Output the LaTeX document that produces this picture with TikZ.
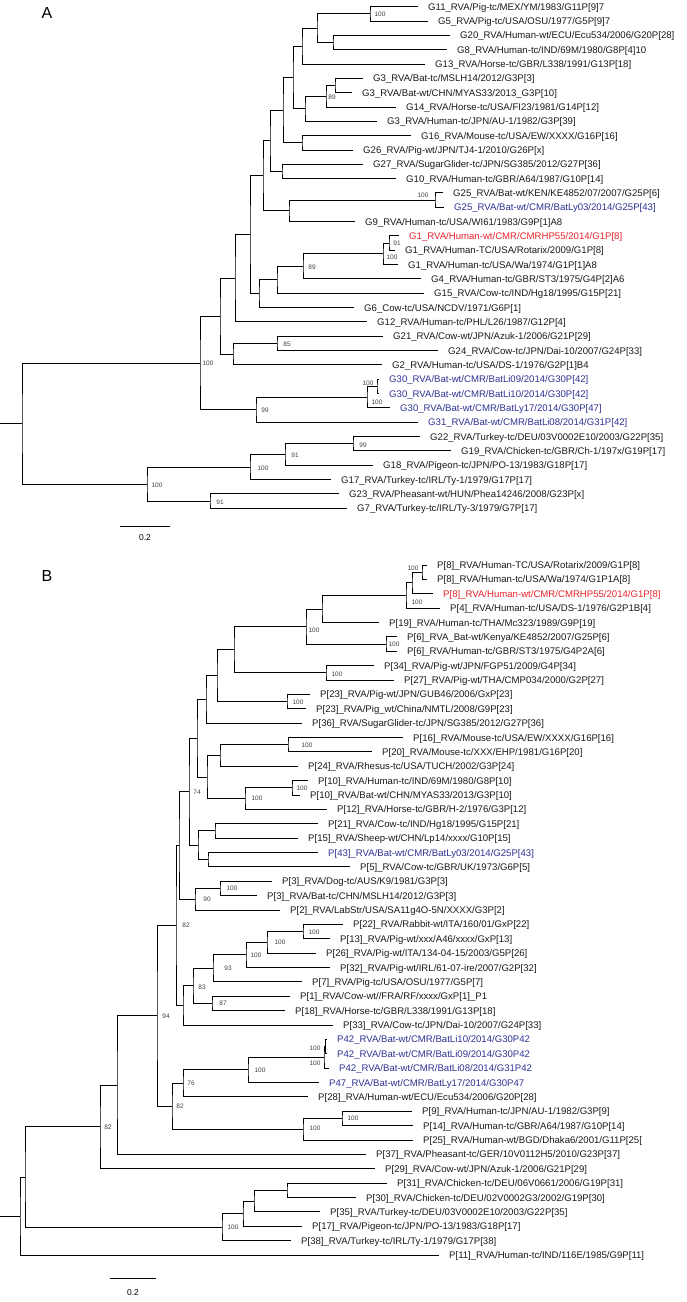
\documentclass[tikz,border=0pt]{standalone}
\usepackage{fontspec}
\setmainfont{Liberation Sans}
\usetikzlibrary{calc}
\definecolor{batblue}{HTML}{2E3192}
\definecolor{humred}{HTML}{E8232A}
\newcommand\ya[1]{6.7+14.33*(#1-1)}
\newcommand\yb[1]{565+14.375*(#1-1)}
\newcommand\leafnode[5][black!90]{%
  \coordinate (#2) at ({#3-10},{#4});
  \node[leaf,text=#1] (#2-t) at ([xshift=10pt,yshift=-3.5pt]#2) {#5};}
\newcommand\clade[4]{%
  \path let \p1=($(#3)!.5!(#4)$) in coordinate (#1) at (#2pt,\y1);
  \draw[branch] (#3) -| (#1) |- (#4);}
\newcommand\bs[4]{\node[boot] (#1-b) at (#2,#3) {#4};}
\begin{document}
\begin{tikzpicture}[x=1pt,y=-1pt,
  branch/.style={line width=1pt,draw=black},
  leaf/.style={anchor=base west,inner sep=0pt,font=\fontsize{9.6}{11}\selectfont},
  boot/.style={inner sep=0pt,text=black!75,font=\fontsize{6.5}{7}\selectfont},
  panel/.style={inner sep=0pt,font=\fontsize{16}{18}\selectfont},
  scalelab/.style={inner sep=0pt,font=\fontsize{8.5}{10}\selectfont}]
\useasboundingbox (0,0) rectangle (686,1302);
\node[panel] (pa) at (47,13) {A};
\leafnode{g11}{428}{\ya{1}}{G11\_RVA/Pig-tc/MEX/YM/1983/G11P[9]7}
\leafnode{g5}{438}{\ya{2}}{G5\_RVA/Pig-tc/USA/OSU/1977/G5P[9]7}
\leafnode{g20}{460}{\ya{3}}{G20\_RVA/Human-wt/ECU/Ecu534/2006/G20P[28]}
\leafnode{g8}{457}{\ya{4}}{G8\_RVA/Human-tc/IND/69M/1980/G8P[4]10}
\leafnode{g13}{435}{\ya{5}}{G13\_RVA/Horse-tc/GBR/L338/1991/G13P[18]}
\leafnode{g3bt}{373}{\ya{6}}{G3\_RVA/Bat-tc/MSLH14/2012/G3P[3]}
\leafnode{g3bw}{362}{\ya{7}}{G3\_RVA/Bat-wt/CHN/MYAS33/2013\_G3P[10]}
\leafnode{g14}{406}{\ya{8}}{G14\_RVA/Horse-tc/USA/FI23/1981/G14P[12]}
\leafnode{g3h}{387}{\ya{9}}{G3\_RVA/Human-tc/JPN/AU-1/1982/G3P[39]}
\leafnode{g16}{421}{\ya{10}}{G16\_RVA/Mouse-tc/USA/EW/XXXX/G16P[16]}
\leafnode{g26}{363}{\ya{11}}{G26\_RVA/Pig-wt/JPN/TJ4-1/2010/G26P[x]}
\leafnode{g27}{373}{\ya{12}}{G27\_RVA/SugarGlider-tc/JPN/SG385/2012/G27P[36]}
\leafnode{g10}{406}{\ya{13}}{G10\_RVA/Human-tc/GBR/A64/1987/G10P[14]}
\leafnode{g25k}{453}{\ya{14}}{G25\_RVA/Bat-wt/KEN/KE4852/07/2007/G25P[6]}
\leafnode[batblue]{g25c}{454}{\ya{15}}{G25\_RVA/Bat-wt/CMR/BatLy03/2014/G25P[43]}
\leafnode{g9}{365}{\ya{16}}{G9\_RVA/Human-tc/USA/WI61/1983/G9P[1]A8}
\leafnode[humred]{g1c}{409}{\ya{17}}{G1\_RVA/Human-wt/CMR/CMRHP55/2014/G1P[8]}
\leafnode{g1r}{405}{\ya{18}}{G1\_RVA/Human-TC/USA/Rotarix/2009/G1P[8]}
\leafnode{g1w}{408}{\ya{19}}{G1\_RVA/Human-tc/USA/Wa/1974/G1P[1]A8}
\leafnode{g4}{431}{\ya{20}}{G4\_RVA/Human-tc/GBR/ST3/1975/G4P[2]A6}
\leafnode{g15}{434}{\ya{21}}{G15\_RVA/Cow-tc/IND/Hg18/1995/G15P[21]}
\leafnode{g6}{364}{\ya{22}}{G6\_Cow-tc/USA/NCDV/1971/G6P[1]}
\leafnode{g12}{377}{\ya{23}}{G12\_RVA/Human-tc/PHL/L26/1987/G12P[4]}
\leafnode{g21}{393}{\ya{24}}{G21\_RVA/Cow-wt/JPN/Azuk-1/2006/G21P[29]}
\leafnode{g24}{448}{\ya{25}}{G24\_RVA/Cow-tc/JPN/Dai-10/2007/G24P[33]}
\leafnode{g2}{392}{\ya{26}}{G2\_RVA/Human-tc/USA/DS-1/1976/G2P[1]B4}
\leafnode[batblue]{g30a}{389}{\ya{27}}{G30\_RVA/Bat-wt/CMR/BatLi09/2014/G30P[42]}
\leafnode[batblue]{g30b}{389}{\ya{28}}{G30\_RVA/Bat-wt/CMR/BatLi10/2014/G30P[42]}
\leafnode[batblue]{g30c}{400}{\ya{29}}{G30\_RVA/Bat-wt/CMR/BatLy17/2014/G30P[47]}
\leafnode[batblue]{g31}{428}{\ya{30}}{G31\_RVA/Bat-wt/CMR/BatLi08/2014/G31P[42]}
\leafnode{g22}{430}{\ya{31}}{G22\_RVA/Turkey-tc/DEU/03V0002E10/2003/G22P[35]}
\leafnode{g19}{461}{\ya{32}}{G19\_RVA/Chicken-tc/GBR/Ch-1/197x/G19P[17]}
\leafnode{g18}{383}{\ya{33}}{G18\_RVA/Pigeon-tc/JPN/PO-13/1983/G18P[17]}
\leafnode{g17}{341}{\ya{34}}{G17\_RVA/Turkey-tc/IRL/Ty-1/1979/G17P[17]}
\leafnode{g23}{349}{\ya{35}}{G23\_RVA/Pheasant-wt/HUN/Phea14246/2008/G23P[x]}
\leafnode{g7}{357}{\ya{36}}{G7\_RVA/Turkey-tc/IRL/Ty-3/1979/G7P[17]}
\clade{n1}{370}{g11}{g5}
\clade{n2}{333}{g20}{g8}
\clade{n3}{317}{n1}{n2}
\clade{n4}{302}{n3}{g13}
\clade{n5}{335}{g3bt}{g3bw}
\clade{n6}{326}{n5}{g14}
\clade{n7}{305}{n6}{g3h}
\clade{n8}{293}{n4}{n7}
\clade{n9}{302}{g16}{g26}
\clade{n10}{283}{n8}{n9}
\clade{n11}{282}{g27}{g10}
\clade{n12}{270}{n10}{n11}
\clade{n13}{435}{g25k}{g25c}
\clade{n14}{289}{n13}{g9}
\clade{n15}{263}{n12}{n14}
\clade{n16}{389}{g1c}{g1r}
\clade{n17}{383}{n16}{g1w}
\clade{n18}{303}{n17}{g4}
\clade{n19}{277}{n18}{g15}
\clade{n20}{259}{n19}{g6}
\clade{n21}{250}{n15}{n20}
\clade{n22}{235}{n21}{g12}
\clade{n23}{277}{g21}{g24}
\clade{n24}{233}{n23}{g2}
\clade{n25}{220}{n22}{n24}
\clade{n26}{377}{g30a}{g30b}
\clade{n27}{367}{n26}{g30c}
\clade{n28}{256}{n27}{g31}
\clade{n29}{200}{n25}{n28}
\clade{n30}{353}{g22}{g19}
\clade{n31}{285}{n30}{g18}
\clade{n32}{250}{n31}{g17}
\clade{n33}{210}{g23}{g7}
\clade{n34}{147}{n32}{n33}
\clade{ra}{22}{n29}{n34}
\coordinate (ra-0) at ([xshift=-22pt]ra);
\draw[branch] (ra-0) -- (ra);
\bs{n1}{380}{14}{100}
\bs{n6}{332}{97}{89}
\bs{n13}{423}{195}{100}
\bs{n16}{397}{243}{91}
\bs{n17}{392}{257}{100}
\bs{n18}{312}{267}{89}
\bs{n23}{287}{344}{85}
\bs{n29}{208}{363}{100}
\bs{n26}{368}{383}{100}
\bs{n27}{377}{402}{100}
\bs{n28}{265}{410}{99}
\bs{n30}{363}{445}{99}
\bs{n31}{295}{455}{91}
\bs{n32}{263}{468}{100}
\bs{n34}{157}{485}{100}
\bs{n33}{220}{502}{91}
\coordinate (sa0) at (120,526.5);
\coordinate (sa1) at (170,526.5);
\draw[branch] (sa0) -- (sa1);
\node[scalelab] (sal) at (145,538) {0.2};
\node[panel] (pb) at (47,576) {B};
\leafnode{p8r}{437}{\yb{1}}{P[8]\_RVA/Human-TC/USA/Rotarix/2009/G1P[8]}
\leafnode{p8w}{437}{\yb{2}}{P[8]\_RVA/Human-tc/USA/Wa/1974/G1P1A[8]}
\leafnode[humred]{p8c}{443}{\yb{3}}{P[8]\_RVA/Human-wt/CMR/CMRHP55/2014/G1P[8]}
\leafnode{p4}{450}{\yb{4}}{P[4]\_RVA/Human-tc/USA/DS-1/1976/G2P1B[4]}
\leafnode{p19}{389}{\yb{5}}{P[19]\_RVA/Human-tc/THA/Mc323/1989/G9P[19]}
\leafnode{p6b}{407}{\yb{6}}{P[6]\_RVA\_Bat-wt/Kenya/KE4852/2007/G25P[6]}
\leafnode{p6h}{407}{\yb{7}}{P[6]\_RVA/Human-tc/GBR/ST3/1975/G4P2A[6]}
\leafnode{p34}{384}{\yb{8}}{P[34]\_RVA/Pig-wt/JPN/FGP51/2009/G4P[34]}
\leafnode{p27}{404}{\yb{9}}{P[27]\_RVA/Pig-wt/THA/CMP034/2000/G2P[27]}
\leafnode{p23g}{320}{\yb{10}}{P[23]\_RVA/Pig-wt/JPN/GUB46/2006/GxP[23]}
\leafnode{p23c}{316}{\yb{11}}{P[23]\_RVA/Pig\_wt/China/NMTL/2008/G9P[23]}
\leafnode{p36}{312}{\yb{12}}{P[36]\_RVA/SugarGlider-tc/JPN/SG385/2012/G27P[36]}
\leafnode{p16}{413}{\yb{13}}{P[16]\_RVA/Mouse-tc/USA/EW/XXXX/G16P[16]}
\leafnode{p20}{382}{\yb{14}}{P[20]\_RVA/Mouse-tc/XXX/EHP/1981/G16P[20]}
\leafnode{p24}{308}{\yb{15}}{P[24]\_RVA/Rhesus-tc/USA/TUCH/2002/G3P[24]}
\leafnode{p10h}{318}{\yb{16}}{P[10]\_RVA/Human-tc/IND/69M/1980/G8P[10]}
\leafnode{p10b}{310}{\yb{17}}{P[10]\_RVA/Bat-wt/CHN/MYAS33/2013/G3P[10]}
\leafnode{p12}{337}{\yb{18}}{P[12]\_RVA/Horse-tc/GBR/H-2/1976/G3P[12]}
\leafnode{p21}{328}{\yb{19}}{P[21]\_RVA/Cow-tc/IND/Hg18/1995/G15P[21]}
\leafnode{p15}{308}{\yb{20}}{P[15]\_RVA/Sheep-wt/CHN/Lp14/xxxx/G10P[15]}
\leafnode[batblue]{p43}{328}{\yb{21}}{P[43]\_RVA/Bat-wt/CMR/BatLy03/2014/G25P[43]}
\leafnode{p5}{360}{\yb{22}}{P[5]\_RVA/Cow-tc/GBR/UK/1973/G6P[5]}
\leafnode{p3d}{282}{\yb{23}}{P[3]\_RVA/Dog-tc/AUS/K9/1981/G3P[3]}
\leafnode{p3b}{267}{\yb{24}}{P[3]\_RVA/Bat-tc/CHN/MSLH14/2012/G3P[3]}
\leafnode{p2}{290}{\yb{25}}{P[2]\_RVA/LabStr/USA/SA11g4O-5N/XXXX/G3P[2]}
\leafnode{p22}{353}{\yb{26}}{P[22]\_RVA/Rabbit-wt/ITA/160/01/GxP[22]}
\leafnode{p13}{340}{\yb{27}}{P[13]\_RVA/Pig-wt/xxx/A46/xxxx/GxP[13]}
\leafnode{p26}{326}{\yb{28}}{P[26]\_RVA/Pig-wt/ITA/134-04-15/2003/G5P[26]}
\leafnode{p32}{340}{\yb{29}}{P[32]\_RVA/Pig-wt/IRL/61-07-ire/2007/G2P[32]}
\leafnode{p7}{312}{\yb{30}}{P[7]\_RVA/Pig-tc/USA/OSU/1977/G5P[7]}
\leafnode{p1}{300}{\yb{31}}{P[1]\_RVA/Cow-wt//FRA/RF/xxxx/GxP[1]\_P1}
\leafnode{p18}{295}{\yb{32}}{P[18]\_RVA/Horse-tc/GBR/L338/1991/G13P[18]}
\leafnode{p33}{343}{\yb{33}}{P[33]\_RVA/Cow-tc/JPN/Dai-10/2007/G24P[33]}
\leafnode[batblue]{p42a}{337}{\yb{34}}{P42\_RVA/Bat-wt/CMR/BatLi10/2014/G30P42}
\leafnode[batblue]{p42b}{337}{\yb{35}}{P42\_RVA/Bat-wt/CMR/BatLi09/2014/G30P42}
\leafnode[batblue]{p42c}{339}{\yb{36}}{P42\_RVA/Bat-wt/CMR/BatLi08/2014/G31P42}
\leafnode[batblue]{p47}{329}{\yb{37}}{P47\_RVA/Bat-wt/CMR/BatLy17/2014/G30P47}
\leafnode{p28}{318}{\yb{38}}{P[28]\_RVA/Human-wt/ECU/Ecu534/2006/G20P[28]}
\leafnode{p9}{422}{\yb{39}}{P[9]\_RVA/Human-tc/JPN/AU-1/1982/G3P[9]}
\leafnode{p14}{423}{\yb{40}}{P[14]\_RVA/Human-tc/GBR/A64/1987/G10P[14]}
\leafnode{p25}{423}{\yb{41}}{P[25]\_RVA/Human-wt/BGD/Dhaka6/2001/G11P[25[}
\leafnode{p37}{376}{\yb{42}}{P[37]\_RVA/Pheasant-tc/GER/10V0112H5/2010/G23P[37]}
\leafnode{p29}{385}{\yb{43}}{P[29]\_RVA/Cow-wt/JPN/Azuk-1/2006/G21P[29]}
\leafnode{p31}{397}{\yb{44}}{P[31]\_RVA/Chicken-tc/DEU/06V0661/2006/G19P[31]}
\leafnode{p30}{366}{\yb{45}}{P[30]\_RVA/Chicken-tc/DEU/02V0002G3/2002/G19P[30]}
\leafnode{p35}{330}{\yb{46}}{P[35]\_RVA/Turkey-tc/DEU/03V0002E10/2003/G22P[35]}
\leafnode{p17}{312}{\yb{47}}{P[17]\_RVA/Pigeon-tc/JPN/PO-13/1983/G18P[17]}
\leafnode{p38}{301}{\yb{48}}{P[38]\_RVA/Turkey-tc/IRL/Ty-1/1979/G17P[38]}
\leafnode{p11}{449}{\yb{49}}{P[11]\_RVA/Human-tc/IND/116E/1985/G9P[11]}
\clade{m1}{422}{p8r}{p8w}
\clade{m2}{412}{m1}{p8c}
\clade{m3}{406}{m2}{p4}
\clade{m4}{322}{m3}{p19}
\clade{m5}{386}{p6b}{p6h}
\clade{m6}{306}{m4}{m5}
\clade{m7}{326}{p34}{p27}
\clade{m8}{234}{m6}{m7}
\clade{m9}{287}{p23g}{p23c}
\clade{m10}{217}{m8}{m9}
\clade{m11}{206}{m10}{p36}
\clade{m12}{288}{p16}{p20}
\clade{m13}{220}{m12}{p24}
\clade{m14}{292}{p10h}{p10b}
\clade{m15}{245}{m14}{p12}
\clade{m16}{207}{m13}{m15}
\clade{m17}{197}{m11}{m16}
\clade{m18}{215}{p21}{p15}
\clade{m19}{208}{p43}{p5}
\clade{m20}{198}{m18}{m19}
\clade{m21}{189}{m17}{m20}
\clade{m22}{220}{p3d}{p3b}
\clade{m23}{195}{m22}{p2}
\clade{m24}{179}{m21}{m23}
\clade{m25}{303}{p22}{p13}
\clade{m26}{267}{m25}{p26}
\clade{m27}{246}{m26}{p32}
\clade{m28}{213}{m27}{p7}
\clade{m29}{212}{p1}{p18}
\clade{m30}{193}{m28}{m29}
\clade{m31}{183}{m30}{p33}
\clade{m32}{176}{m24}{m31}
\clade{m33}{325.5}{p42a}{p42b}
\clade{m34}{324}{m33}{p42c}
\clade{m35}{248}{m34}{p47}
\clade{m36}{183}{m35}{p28}
\clade{m37}{342}{p9}{p14}
\clade{m38}{303}{m37}{p25}
\clade{m39}{172}{m36}{m38}
\clade{m40}{157}{m32}{m39}
\clade{m41}{117}{m40}{p37}
\clade{m42}{100}{m41}{p29}
\clade{m43}{287}{p31}{p30}
\clade{m44}{254}{m43}{p35}
\clade{m45}{243}{m44}{p17}
\clade{m46}{222}{m45}{p38}
\clade{m47}{25}{m42}{m46}
\clade{rb}{20}{m47}{p11}
\coordinate (rb-0) at ([xshift=-20pt]rb);
\draw[branch] (rb-0) -- (rb);
\bs{m1}{413}{568}{100}
\bs{m3}{417}{602}{100}
\bs{m6}{314}{630}{100}
\bs{m5}{394}{644}{100}
\bs{m7}{337}{674}{100}
\bs{m9}{298}{702}{100}
\bs{m12}{307}{745}{100}
\bs{m14}{302}{788}{100}
\bs{m15}{257}{798}{100}
\bs{m21}{197}{792}{74}
\bs{m22}{232}{888}{100}
\bs{m23}{207}{899}{90}
\bs{m32}{186}{925}{82}
\bs{m25}{314}{932}{100}
\bs{m26}{280}{942}{100}
\bs{m27}{256}{955}{100}
\bs{m28}{228}{968}{93}
\bs{m30}{202}{987}{83}
\bs{m29}{223}{1003}{87}
\bs{m40}{166}{1016}{94}
\bs{m33}{315}{1048}{100}
\bs{m34}{315}{1063}{100}
\bs{m35}{260}{1070}{100}
\bs{m36}{191}{1083}{76}
\bs{m39}{180}{1106}{82}
\bs{m37}{353}{1118}{100}
\bs{m38}{315}{1128}{100}
\bs{m42}{108}{1127}{82}
\bs{m46}{233}{1227}{100}
\coordinate (sb0) at (110,1278);
\coordinate (sb1) at (156,1278);
\draw[branch] (sb0) -- (sb1);
\node[scalelab] (sbl) at (133,1293) {0.2};
\end{tikzpicture}
\end{document}
